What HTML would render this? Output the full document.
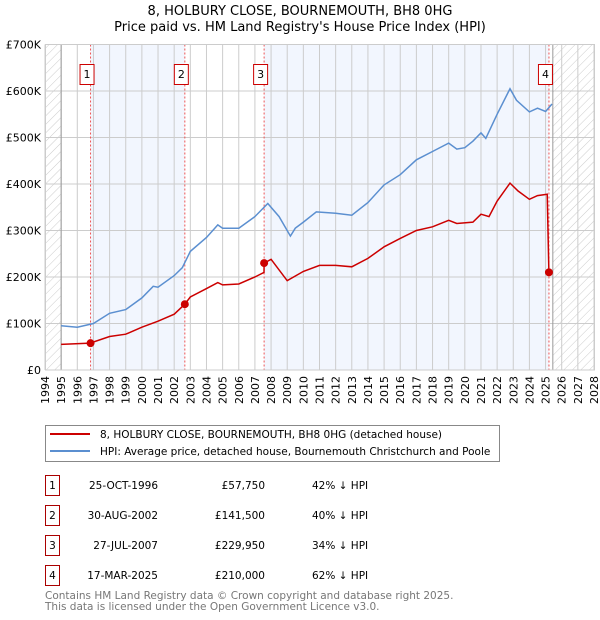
<!DOCTYPE html>
<html><head><meta charset="utf-8"><style>
body{margin:0;background:#fff;}
svg{display:block;font-family:"DejaVu Sans","Liberation Sans",sans-serif;}
</style></head><body>
<svg width="600" height="620" viewBox="0 0 600 620">
<defs>
<pattern id="hatch" width="6" height="6" patternUnits="userSpaceOnUse" patternTransform="rotate(45)">
<line x1="0" y1="0" x2="0" y2="6" stroke="#ccc" stroke-width="1"/>
</pattern>
</defs>
<text x="300" y="15" text-anchor="middle" font-size="13" fill="#000">8, HOLBURY CLOSE, BOURNEMOUTH, BH8 0HG</text>
<text x="300" y="31" text-anchor="middle" font-size="13" fill="#000">Price paid vs. HM Land Registry's House Price Index (HPI)</text>
<g id="plot"></g>
<g id="legend">
<rect x="45.5" y="425.5" width="454" height="36" fill="#fff" stroke="#888"/>
<line x1="50" y1="434" x2="90" y2="434" stroke="#cc0000" stroke-width="2"/>
<text x="100" y="438" font-size="10.5">8, HOLBURY CLOSE, BOURNEMOUTH, BH8 0HG (detached house)</text>
<line x1="50" y1="451" x2="90" y2="451" stroke="#5b8fd0" stroke-width="2"/>
<text x="100" y="455" font-size="10.5">HPI: Average price, detached house, Bournemouth Christchurch and Poole</text>
</g>
<g id="table" font-size="10.5"></g>
<text x="45" y="599" font-size="10.5" fill="#777">Contains HM Land Registry data © Crown copyright and database right 2025.</text>
<text x="45" y="610" font-size="10.5" fill="#777">This data is licensed under the Open Government Licence v3.0.</text>
</svg>
<script>
const yTicks=[0,100000,200000,300000,400000,500000,600000,700000];
const yTickLabels=["£0","£100K","£200K","£300K","£400K","£500K","£600K","£700K"];
const years=[1994,1995,1996,1997,1998,1999,2000,2001,2002,2003,2004,2005,2006,2007,2008,2009,2010,2011,2012,2013,2014,2015,2016,2017,2018,2019,2020,2021,2022,2023,2024,2025,2026,2027,2028];
const hpiT=[1995,1996,1997,1998,1999,2000,2000.7,2001,2002,2002.5,2003,2004,2004.7,2005,2006,2007,2007.8,2008.5,2009.2,2009.5,2010,2010.8,2012,2013,2014,2015,2016,2017,2018,2019,2019.5,2020,2020.5,2021,2021.3,2022,2022.8,2023.2,2024,2024.5,2025,2025.4];
const hpiV=[95000,92000,100000,122000,130000,155000,180000,178000,203000,220000,255000,285000,312000,305000,305000,330000,358000,330000,288000,305000,318000,340000,337000,333000,360000,398000,420000,452000,470000,488000,475000,478000,492000,510000,498000,550000,605000,580000,555000,563000,556000,572000];
const redT=[1995,1996.8,1998,1999,2000,2001,2002,2002.66,2003,2004,2004.7,2005,2006,2007,2007.56,2007.57,2008,2009,2010,2011,2012,2013,2014,2015,2016,2017,2018,2019,2019.5,2020.5,2021,2021.5,2022,2022.8,2023.3,2024,2024.5,2025.1,2025.21];
const redV=[55000,57750,72000,77000,92000,105000,120000,141500,157000,175000,188000,183000,185000,200000,210000,229950,238000,192000,212000,225000,225000,222000,240000,265000,283000,300000,308000,322000,315000,318000,335000,330000,363000,402000,385000,367000,375000,378000,210000];
const saleT=[1996.82,2002.66,2007.57,2025.21];
const saleV=[57750,141500,229950,210000];
const saleLabels=["1","2","3","4"];
const saleDates=["25-OCT-1996","30-AUG-2002","27-JUL-2007","17-MAR-2025"];
const salePrices=["£57,750","£141,500","£229,950","£210,000"];
const saleHpi=["42% ↓ HPI","40% ↓ HPI","34% ↓ HPI","62% ↓ HPI"];
const dataEnd=2025.45;

const X0=45,X1=594,Y0=370,Y1=44.5;
const xs=t=>X0+(t-1994)/(2028-1994)*(X1-X0);
const ys=v=>Y0-v/700000*(Y0-Y1);
const NS="http://www.w3.org/2000/svg";
function mk(tag,attrs,parent){const e=document.createElementNS(NS,tag);for(const k in attrs)e.setAttribute(k,attrs[k]);parent.appendChild(e);return e;}
const plot=document.getElementById('plot');

let b;
b=mk('rect',{x:xs(saleT[0]),y:Y1,width:xs(saleT[1])-xs(saleT[0]),height:Y0-Y1,fill:'#f2f6fe'},plot);


b=mk('rect',{x:xs(saleT[2]),y:Y1,width:xs(saleT[3])-xs(saleT[2]),height:Y0-Y1,fill:'#f2f6fe'},plot);


b=mk('rect',{x:X0,y:Y1,width:xs(1995)-X0,height:Y0-Y1,fill:'url(#hatch)'},plot);


b=mk('rect',{x:xs(dataEnd),y:Y1,width:X1-xs(dataEnd),height:Y0-Y1,fill:'url(#hatch)'},plot);



years.forEach(y=>{
  const g=mk('line',{x1:xs(y),x2:xs(y),y1:Y1,y2:Y0,stroke:'#ccc','stroke-width':1},plot);
  
  
  const t=mk('text',{x:0,y:0,'font-size':11,'text-anchor':'end',transform:`translate(${xs(y)+4},${Y0+6}) rotate(-90)`},plot);
  t.textContent=y;
  
  
});
yTicks.forEach((v,i)=>{
  const g=mk('line',{x1:X0,x2:X1,y1:ys(v),y2:ys(v),stroke:'#ccc','stroke-width':1},plot);
  
  
  const t=mk('text',{x:X0-4,y:ys(v)+4,'font-size':11,'text-anchor':'end'},plot);
  t.textContent=yTickLabels[i];
  
  
});
let a=mk('line',{x1:xs(1995),x2:xs(1995),y1:Y1,y2:Y0,stroke:'#999'},plot);


a=mk('line',{x1:xs(dataEnd),x2:xs(dataEnd),y1:Y1,y2:Y0,stroke:'#999'},plot);



saleT.forEach((t,i)=>{
  const l=mk('line',{x1:xs(t),x2:xs(t),y1:Y1,y2:Y0,stroke:'#ee5555','stroke-dasharray':'2,2','stroke-width':1},plot);
  
  
  const r=mk('rect',{x:xs(t)-10.5,y:64.5,width:14,height:20,fill:'#fff',stroke:'#cc0000'},plot);
  
  
  const tx=mk('text',{x:xs(t)-3.5,y:78,'font-size':11,'text-anchor':'middle'},plot);
  tx.textContent=saleLabels[i];
  
  
});

function path(T,V){return T.map((t,i)=>(i?'L':'M')+xs(t).toFixed(1)+','+ys(V[i]).toFixed(1)).join('');}
const hp=mk('path',{d:path(hpiT,hpiV),fill:'none',stroke:'#5b8fd0','stroke-width':1.5},plot);


const rp=mk('path',{d:path(redT,redV),fill:'none',stroke:'#cc0000','stroke-width':1.5},plot);


saleT.forEach((t,i)=>{
  const c=mk('circle',{cx:xs(t),cy:ys(saleV[i]),r:4,fill:'#cc0000'},plot);
  
  
});
a=mk('rect',{x:X0+0.5,y:Y1,width:X1-X0,height:Y0-Y1,fill:'none',stroke:'#ccc'},plot);



const tb=document.getElementById('table');
saleLabels.forEach((s,i)=>{
  const y=476+i*30;
  const r=mk('rect',{x:45.5,y:y-0.5,width:14,height:20,fill:'#fff',stroke:'#aa0000'},tb);
  
  
  let t=mk('text',{x:52.5,y:y+13,'text-anchor':'middle'},tb);t.textContent=s;
  
  
  t=mk('text',{x:158,y:y+13,'text-anchor':'end'},tb);t.textContent=saleDates[i];
  
  
  t=mk('text',{x:265,y:y+13,'text-anchor':'end'},tb);t.textContent=salePrices[i];
  
  
  t=mk('text',{x:312,y:y+13},tb);t.textContent=saleHpi[i];
  
  
});
</script>
</body></html>
